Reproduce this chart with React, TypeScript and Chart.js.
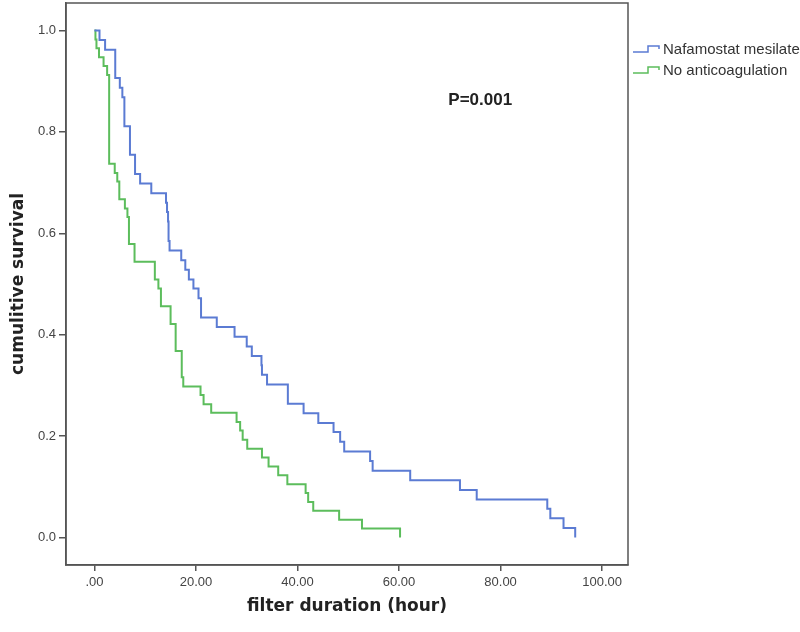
import React, { useEffect, useRef } from 'react';
import { Chart, registerables } from 'chart.js';

Chart.register(...registerables);

// ---- data ----
const seriesNames = ['Nafamostat mesilate', 'No anticoagulation'];

const nafamostatHours = [0, 1.0, 2.1, 4.1, 5.0, 5.5, 5.9, 7.0, 8.0, 9.0, 11.2, 14.1, 14.3, 14.5, 14.6, 14.8, 17.1, 17.9, 18.6, 19.5, 20.5, 21.0, 24.1, 27.6, 30.0, 31.0, 32.9, 33.0, 34.0, 38.1, 41.2, 44.1, 47.1, 48.4, 49.2, 54.3, 54.8, 62.2, 72.0, 75.3, 89.2, 89.8, 92.4, 94.7];
const nafamostatSurvival = [1.0, 0.981, 0.962, 0.906, 0.887, 0.868, 0.811, 0.755, 0.717, 0.698, 0.679, 0.660, 0.642, 0.623, 0.585, 0.566, 0.547, 0.528, 0.509, 0.491, 0.472, 0.434, 0.415, 0.396, 0.377, 0.358, 0.340, 0.321, 0.302, 0.264, 0.245, 0.226, 0.208, 0.189, 0.170, 0.151, 0.132, 0.113, 0.094, 0.075, 0.057, 0.038, 0.019, 0.0];

const noAnticoagHours = [0, 0.2, 0.4, 0.9, 1.8, 2.5, 2.9, 4.0, 4.5, 4.9, 6.0, 6.5, 6.8, 7.9, 11.9, 12.6, 13.1, 15.0, 16.0, 17.2, 17.5, 20.9, 21.5, 23.0, 28.0, 28.7, 29.2, 30.1, 33.0, 34.3, 36.2, 38.0, 41.6, 42.1, 43.1, 48.2, 52.7, 60.2];
const noAnticoagSurvival = [1.0, 0.982, 0.965, 0.947, 0.930, 0.912, 0.737, 0.719, 0.702, 0.667, 0.649, 0.632, 0.579, 0.544, 0.509, 0.491, 0.456, 0.421, 0.368, 0.316, 0.298, 0.281, 0.263, 0.246, 0.228, 0.211, 0.193, 0.175, 0.158, 0.140, 0.123, 0.105, 0.088, 0.070, 0.053, 0.035, 0.018, 0.0];

const xTickValues = [0, 20, 40, 60, 80, 100];
const xTickLabels = ['.00', '20.00', '40.00', '60.00', '80.00', '100.00'];
const yTickValues = [0, 0.2, 0.4, 0.6, 0.8, 1.0];
const yTickLabels = ['0.0', '0.2', '0.4', '0.6', '0.8', '1.0'];

const xAxisTitle = 'filter duration (hour)';
const yAxisTitle = 'cumulitive survival';
const pValueText = 'P=0.001';

// ---- styling ----
const seriesColors = ['#5b7bd3', '#5cbd5c'];
const axisColor = '#555555';
const titleFont = '"DejaVu Sans", Verdana, sans-serif';
const bodyFont = '"Liberation Sans", Arial, sans-serif';

const overlayPlugin = {
  id: 'overlay',
  afterDraw(chart: any) {
    const { ctx, chartArea: a } = chart;
    ctx.save();
    // frame
    ctx.strokeStyle = axisColor;
    ctx.lineWidth = 1.5;
    ctx.strokeRect(a.left, a.top, a.right - a.left, a.bottom - a.top);
    // p value
    ctx.font = `bold 17px ${bodyFont}`;
    ctx.fillStyle = '#222';
    ctx.textAlign = 'center';
    ctx.textBaseline = 'middle';
    const px = a.left + (a.right - a.left) * 0.737;
    const py = a.top + (a.bottom - a.top) * 0.174;
    ctx.fillText(pValueText, px, py);
    // legend
    ctx.font = `15px ${bodyFont}`;
    ctx.textAlign = 'left';
    chart.data.datasets.forEach((ds: any, i: number) => {
      const y = 49 + i * 21;
      const x0 = a.right + 5;
      ctx.strokeStyle = ds.borderColor;
      ctx.lineWidth = 1.5;
      ctx.beginPath();
      ctx.moveTo(x0, y + 3);
      ctx.lineTo(x0 + 15, y + 3);
      ctx.lineTo(x0 + 15, y - 3);
      ctx.lineTo(x0 + 26, y - 3);
      ctx.lineTo(x0 + 26, y);
      ctx.stroke();
      ctx.fillStyle = '#333';
      ctx.fillText(ds.label, x0 + 30, y + 1);
    });
    ctx.restore();
  },
};

export default function App() {
  const canvasRef = useRef<HTMLCanvasElement | null>(null);

  useEffect(() => {
    if (!canvasRef.current) return;
    const toPoints = (xs: number[], ys: number[]) => xs.map((x, i) => ({ x, y: ys[i] }));
    const chart = new Chart(canvasRef.current, {
      type: 'line',
      data: {
        datasets: [
          {
            label: seriesNames[0],
            data: toPoints(nafamostatHours, nafamostatSurvival),
            borderColor: seriesColors[0],
            borderWidth: 2,
            pointRadius: 0,
            stepped: 'before',
            fill: false,
          },
          {
            label: seriesNames[1],
            data: toPoints(noAnticoagHours, noAnticoagSurvival),
            borderColor: seriesColors[1],
            borderWidth: 2,
            pointRadius: 0,
            stepped: 'before',
            fill: false,
          },
        ],
      },
      options: {
        responsive: false,
        animation: false,
        layout: { padding: { top: 3, right: 172, left: 0, bottom: 0 } },
        plugins: { legend: { display: false }, tooltip: { enabled: false } },
        scales: {
          x: {
            type: 'linear',
            min: -5.6,
            max: 105.1,
            afterBuildTicks: (s: any) => {
              s.ticks = xTickValues.map((v) => ({ value: v }));
            },
            afterFit: (s: any) => {
              s.height = 67;
              s.paddingLeft = 0;
              s.paddingRight = 0;
            },
            ticks: {
              autoSkip: false,
              maxRotation: 0,
              padding: 4,
              color: '#444',
              font: { family: bodyFont, size: 13 },
              callback: (v: any) => xTickLabels[xTickValues.indexOf(Number(v))],
            },
            grid: { drawOnChartArea: false, drawTicks: true, tickLength: 6, color: axisColor, lineWidth: 1.5 },
            border: { display: true, color: axisColor, width: 1.5 },
            title: {
              display: true,
              text: xAxisTitle,
              color: '#222',
              font: { family: titleFont, size: 17, weight: 'bold' },
              padding: { top: 0, bottom: 15 },
            },
          },
          y: {
            type: 'linear',
            min: -0.054,
            max: 1.054,
            afterBuildTicks: (s: any) => {
              s.ticks = yTickValues.map((v) => ({ value: v }));
            },
            afterFit: (s: any) => {
              s.width = 66;
              s.paddingTop = 0;
              s.paddingBottom = 0;
            },
            ticks: {
              autoSkip: false,
              padding: 3,
              color: '#444',
              font: { family: bodyFont, size: 13 },
              callback: (v: any) => yTickLabels[yTickValues.findIndex((t) => Math.abs(t - Number(v)) < 1e-9)],
            },
            grid: { drawOnChartArea: false, drawTicks: true, tickLength: 7, color: axisColor, lineWidth: 1.5 },
            border: { display: true, color: axisColor, width: 1.5 },
            title: {
              display: true,
              text: yAxisTitle,
              color: '#222',
              font: { family: titleFont, size: 17, weight: 'bold' },
              padding: { top: 8, bottom: 0 },
            },
          },
        },
      },
      plugins: [overlayPlugin],
    });
    return () => chart.destroy();
  }, []);

  return (
    <div style={{ position: 'absolute', left: 0, top: 0, width: 800, height: 632, background: '#fff' }}>
      <canvas ref={canvasRef} width={800} height={632} style={{ display: 'block' }} />
    </div>
  );
}
